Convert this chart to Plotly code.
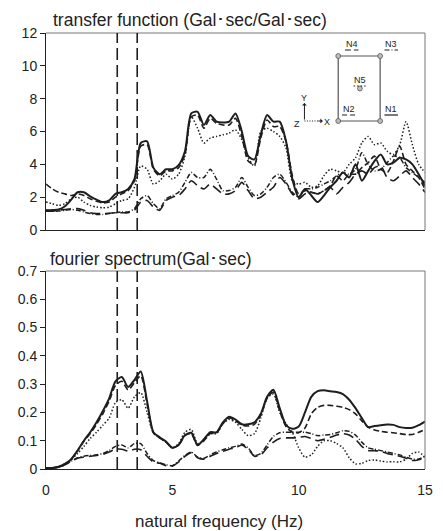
import plotly.graph_objects as go

freq = [i * 0.25 for i in range(61)]

# transfer function (top)
tf_N1 = [1.2,1.22,1.25,1.45,1.85,2.3,2.3,2.05,1.85,1.7,1.8,2.2,2.3,2.5,3.1,5.3,5.4,3.8,3.4,3.7,3.7,3.95,4.8,7.1,7.2,6.4,7.0,6.6,6.55,6.6,7.1,6.0,4.5,4.3,5.8,7.0,6.6,6.6,5.4,3.1,2.0,2.5,2.1,1.7,2.1,2.6,3.0,3.5,3.2,4.0,3.0,3.6,4.2,4.6,4.0,4.1,4.4,4.3,4.0,3.4,2.7]
tf_N2 = [1.15,1.15,1.2,1.25,1.3,1.3,1.2,1.05,1.0,1.0,1.02,1.05,1.05,1.05,1.2,1.7,1.8,1.4,1.2,1.8,2.0,2.1,2.5,3.0,2.7,2.5,2.8,2.5,2.2,2.2,2.4,2.9,2.4,1.9,2.0,2.3,2.6,3.2,2.8,2.2,1.9,2.2,2.3,2.2,2.4,2.6,2.2,2.6,2.9,3.4,3.6,3.4,3.8,3.9,3.2,3.0,3.3,3.6,3.2,2.8,2.3]
tf_N3 = [1.2,1.15,1.15,1.2,1.25,1.2,1.1,1.0,0.95,0.95,1.0,1.05,1.1,1.1,1.3,1.9,2.1,1.6,1.3,1.9,2.1,2.3,2.9,3.5,3.2,3.2,3.7,3.1,2.4,2.4,2.6,3.2,2.6,2.1,2.2,2.6,3.2,3.4,2.9,2.3,2.0,2.5,2.5,2.6,2.8,3.0,3.3,3.5,3.4,3.7,4.7,4.0,3.6,3.7,4.1,4.5,4.4,3.8,3.5,3.2,2.9]
tf_N4 = [2.8,2.5,2.3,2.2,2.1,2.2,2.1,1.9,1.75,1.65,1.7,2.0,2.2,2.4,3.0,5.1,5.2,3.7,3.3,3.6,3.6,3.8,4.6,6.9,7.0,6.2,6.8,6.5,6.4,6.4,6.8,5.7,4.2,4.0,5.6,6.7,6.3,6.3,5.4,3.3,2.2,2.4,2.3,2.2,2.4,2.7,3.3,3.0,3.4,3.4,3.8,4.1,4.5,3.7,3.5,4.2,5.1,4.0,3.6,3.2,2.5]
tf_N5 = [1.7,1.6,1.5,1.6,1.9,2.0,1.7,1.5,1.4,1.35,1.4,1.6,1.8,1.9,2.6,3.9,3.7,2.8,3.0,3.4,3.1,3.4,4.5,6.9,6.2,5.3,5.6,5.7,5.8,5.9,6.1,5.5,4.4,3.9,6.0,6.2,6.0,5.7,5.0,3.0,2.8,2.9,2.6,2.7,3.3,3.7,3.6,3.5,4.0,4.4,5.3,5.7,5.2,5.3,4.8,4.6,5.2,6.6,5.2,4.0,3.5]

# fourier spectrum (bottom)
fs_N1 = [0.003,0.004,0.008,0.018,0.035,0.065,0.10,0.13,0.165,0.205,0.25,0.31,0.325,0.29,0.315,0.345,0.24,0.13,0.112,0.097,0.075,0.085,0.12,0.128,0.085,0.105,0.13,0.13,0.165,0.185,0.175,0.158,0.158,0.165,0.195,0.255,0.28,0.215,0.155,0.142,0.15,0.2,0.255,0.275,0.278,0.275,0.272,0.265,0.245,0.215,0.18,0.148,0.152,0.155,0.157,0.156,0.148,0.145,0.146,0.155,0.168]
fs_N2 = [0.002,0.003,0.006,0.015,0.028,0.038,0.042,0.045,0.048,0.052,0.06,0.07,0.07,0.063,0.07,0.068,0.045,0.025,0.02,0.012,0.01,0.025,0.045,0.058,0.04,0.035,0.045,0.055,0.062,0.07,0.075,0.085,0.07,0.045,0.05,0.075,0.095,0.108,0.11,0.11,0.112,0.115,0.108,0.1,0.105,0.112,0.12,0.125,0.12,0.105,0.08,0.065,0.065,0.062,0.055,0.05,0.045,0.038,0.03,0.033,0.042]
fs_N3 = [0.002,0.003,0.006,0.015,0.028,0.04,0.045,0.048,0.05,0.055,0.065,0.08,0.085,0.075,0.09,0.09,0.055,0.03,0.022,0.015,0.012,0.028,0.048,0.06,0.042,0.038,0.05,0.06,0.068,0.075,0.08,0.088,0.075,0.048,0.055,0.085,0.115,0.128,0.13,0.13,0.13,0.13,0.125,0.118,0.12,0.122,0.128,0.135,0.133,0.12,0.095,0.075,0.07,0.065,0.06,0.055,0.05,0.042,0.035,0.035,0.045]
fs_N4 = [0.003,0.004,0.008,0.018,0.035,0.065,0.098,0.125,0.158,0.195,0.24,0.295,0.31,0.28,0.305,0.33,0.23,0.128,0.11,0.095,0.075,0.085,0.118,0.125,0.083,0.1,0.125,0.127,0.16,0.18,0.17,0.155,0.152,0.158,0.19,0.25,0.272,0.205,0.15,0.13,0.128,0.145,0.195,0.218,0.225,0.225,0.222,0.218,0.21,0.195,0.17,0.148,0.138,0.133,0.13,0.128,0.125,0.122,0.122,0.13,0.14]
fs_N5 = [0.003,0.004,0.008,0.018,0.033,0.055,0.08,0.108,0.13,0.155,0.18,0.235,0.245,0.215,0.255,0.27,0.2,0.128,0.11,0.095,0.075,0.09,0.13,0.14,0.09,0.1,0.125,0.125,0.16,0.175,0.165,0.14,0.118,0.125,0.18,0.25,0.265,0.2,0.16,0.13,0.075,0.042,0.05,0.08,0.1,0.1,0.09,0.075,0.04,0.018,0.02,0.03,0.032,0.028,0.025,0.026,0.025,0.035,0.055,0.06,0.042]

modal_freqs = [2.82, 3.61]
node_names = ["N1", "N2", "N3", "N4", "N5"]

tf_ticks = [0, 2, 4, 6, 8, 10, 12]
fs_ticks = [0, 0.1, 0.2, 0.3, 0.4, 0.5, 0.6, 0.7]
x_ticks = [0, 5, 10, 15]

# screen-pixel frame of the plot areas (page body has an 8px margin)
OFF = 8
PL, PR = 40, 433
PT, PB = 33, 469
W, H = 443 - OFF, 531 - OFF
ML, MT = PL - OFF, PT - OFF
MR = W - (PR - OFF)
MB = H - (PB - OFF)

def px(x):
    return (x - PL) / (PR - PL)

def py(y):
    return (PB - y) / (PB - PT)

LC = "#1e1e1e"
styles = {
    "N1": dict(dash="solid", width=2.0),
    "N2": dict(dash="10px,5px", width=1.6),
    "N3": dict(dash="5px,2px,1px,2px", width=1.5),
    "N4": dict(dash="6px,3px", width=1.6),
    "N5": dict(dash="1.5px,2px", width=1.5),
}

fig = go.Figure()
tf = dict(N1=tf_N1, N2=tf_N2, N3=tf_N3, N4=tf_N4, N5=tf_N5)
fs = dict(N1=fs_N1, N2=fs_N2, N3=fs_N3, N4=fs_N4, N5=fs_N5)
for n in node_names:
    st = styles[n]
    fig.add_trace(go.Scatter(x=freq, y=tf[n], mode="lines", name=n, xaxis="x", yaxis="y",
                             line=dict(color=LC, width=st["width"], dash=st["dash"], shape="spline", smoothing=0.7),
                             showlegend=False))
    fig.add_trace(go.Scatter(x=freq, y=fs[n], mode="lines", name=n, xaxis="x2", yaxis="y2",
                             line=dict(color=LC, width=st["width"], dash=st["dash"], shape="spline", smoothing=0.7),
                             showlegend=False))

font = dict(family="Liberation Sans, Arial, sans-serif", size=14, color="#222")
big = dict(family="Liberation Sans, Arial, sans-serif", size=17.5, color="#222")
xax = dict(showgrid=False, zeroline=False, showline=True, mirror=False, linecolor="#222",
           linewidth=1, ticks="", tickfont=font)
yax = dict(showgrid=False, zeroline=False, showline=True, mirror=False, linecolor="#222",
           linewidth=1, ticks="outside", ticklen=5, tickcolor="#222", tickwidth=1, tickfont=font)

top_dom = [py(230), 1]
bot_dom = [0, py(271)]
fig.update_layout(
    width=W, height=H,
    margin=dict(l=ML, r=MR, t=MT, b=MB),
    paper_bgcolor="white", plot_bgcolor="white",
    font=font,
    xaxis=dict(domain=[0, 1], anchor="y", range=[0, 15], showticklabels=False, **xax),
    yaxis=dict(domain=top_dom, anchor="x", range=[0, 12], tickvals=tf_ticks, **yax),
    xaxis2=dict(domain=[0, 1], anchor="y2", range=[0, 15], tickvals=x_ticks, ticklabelstandoff=8, **xax),
    yaxis2=dict(domain=bot_dom, anchor="x2", range=[0, 0.7], tickvals=fs_ticks,
                ticktext=["0"] + [f"{v:.1f}" for v in fs_ticks[1:]], **yax),
)

# gray top/right frame lines
for dom in (top_dom, bot_dom):
    fig.add_shape(type="line", xref="paper", yref="paper", x0=0, x1=1, y0=dom[1], y1=dom[1],
                  line=dict(color="#777", width=1))
    fig.add_shape(type="line", xref="paper", yref="paper", x0=1, x1=1, y0=dom[0], y1=dom[1],
                  line=dict(color="#777", width=1))

# modal frequency vertical lines
for f in modal_freqs:
    for xr, yr in (("x", "y domain"), ("x2", "y2 domain")):
        fig.add_shape(type="line", xref=xr, yref=yr, x0=f, x1=f, y0=0, y1=1,
                      line=dict(color=LC, width=1.6, dash="12px,5px"))

# titles
fig.add_annotation(text="transfer function (Gal･sec/Gal･sec)", xref="paper", yref="paper",
                   x=px(45), y=py(20), xanchor="left", yanchor="middle", showarrow=False, font=big)
fig.add_annotation(text="fourier spectrum(Gal･sec)", xref="paper", yref="paper",
                   x=px(42), y=py(259), xanchor="left", yanchor="middle", showarrow=False, font=big)
fig.add_annotation(text="natural frequency (Hz)", xref="paper", yref="paper",
                   x=px(219), y=py(521), xanchor="center", yanchor="middle", showarrow=False,
                   font=dict(family="Liberation Sans, Arial, sans-serif", size=17, color="#222"))

# sensor layout diagram in top panel
small = dict(family="Liberation Sans, Arial, sans-serif", size=9, color="#222")
GRAY = "#555"
fig.add_shape(type="rect", xref="paper", yref="paper", x0=px(343), x1=px(386.5), y0=py(121), y1=py(56),
              line=dict(color=GRAY, width=1.2))
nodes = {"N4": (343, 56), "N3": (386.5, 56), "N2": (343, 121), "N1": (386.5, 121), "N5": (365.5, 88.5)}
for n, (cx, cy) in nodes.items():
    r = 2.5
    fig.add_shape(type="circle", xref="paper", yref="paper", x0=px(cx - r), x1=px(cx + r),
                  y0=py(cy + r), y1=py(cy - r), fillcolor="#bdbdbd", line=dict(color="#555", width=0.8))
labels = {"N4": (357, 44), "N3": (398, 44), "N5": (366, 80), "N2": (354, 109), "N1": (398, 109)}
for n, (lx, ly) in labels.items():
    fig.add_annotation(text=n, xref="paper", yref="paper", x=px(lx), y=py(ly), showarrow=False,
                       xanchor="center", yanchor="middle", font=small)
    fig.add_shape(type="line", xref="paper", yref="paper", x0=px(lx - 7), x1=px(lx + 7),
                  y0=py(ly + 6), y1=py(ly + 6),
                  line=dict(color=LC, width=1.2, dash=styles[n]["dash"] if n != "N2" else "5px,3px"))
# axis icon
fig.add_annotation(x=px(308), y=py(103), ax=0, ay=18, xref="paper", yref="paper",
                   showarrow=True, arrowhead=1, arrowsize=0.8, arrowwidth=1, arrowcolor=LC, text="")
fig.add_shape(type="line", xref="paper", yref="paper", x0=px(308), x1=px(322), y0=py(121), y1=py(121),
              line=dict(color=LC, width=1, dash="1px,1.5px"))
fig.add_annotation(x=px(327), y=py(121), ax=-6, ay=0, xref="paper", yref="paper",
                   showarrow=True, arrowhead=1, arrowsize=0.8, arrowwidth=1, arrowcolor=LC, text="")
for t, (lx, ly) in {"Y": (308, 98), "X": (331, 122), "Z": (300, 124)}.items():
    fig.add_annotation(text=t, xref="paper", yref="paper", x=px(lx), y=py(ly), showarrow=False,
                       xanchor="center", yanchor="middle", font=small)

fig.write_html("out.html")
